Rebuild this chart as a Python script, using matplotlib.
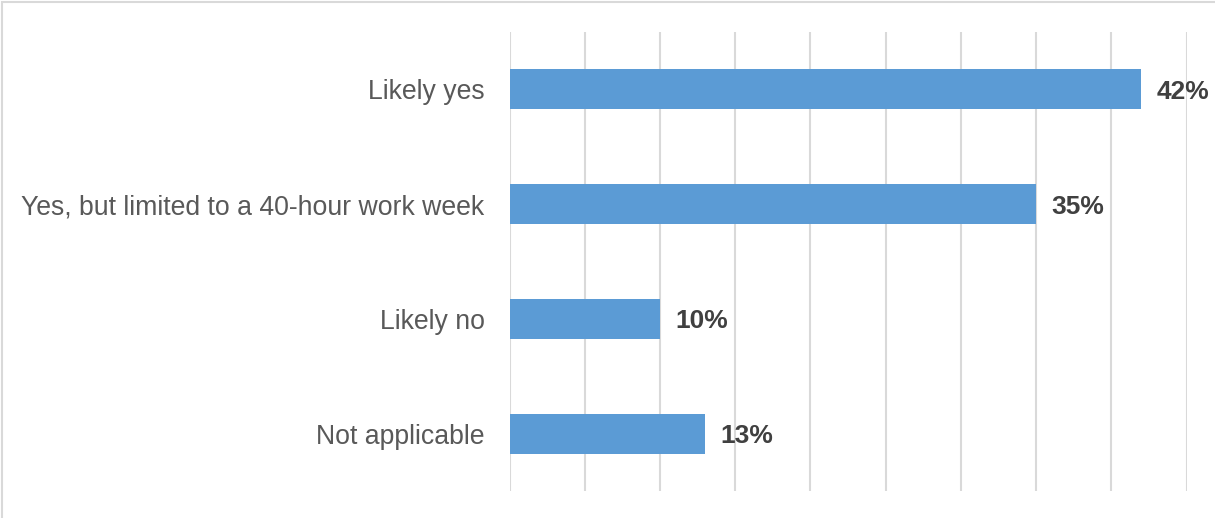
import matplotlib.pyplot as plt
from matplotlib.patches import Rectangle

# survey answers, top to bottom
categories = ["Likely yes", "Yes, but limited to a 40-hour work week", "Likely no", "Not applicable"]
shares = [42, 35, 10, 13]
grid_steps = list(range(0, 50, 5))

plt.rcParams['font.family'] = ['Liberation Sans', 'DejaVu Sans']

fig = plt.figure(figsize=(12.15, 5.18), dpi=100)
ax = fig.add_axes([509.5 / 1215, 1 - 491 / 518, 677 / 1215, 459 / 518])

ypos = list(range(len(categories)))
ax.barh(ypos, shares, height=0.35, color='#5B9BD5', zorder=3)

for y, v in zip(ypos, shares):
    ax.annotate(f"{v}%", (v, y), xytext=(11, 0), textcoords='offset points',
                va='center_baseline', ha='left', fontsize=19, fontweight='bold', color='#404040')

ax.set_xlim(0, 45)
ax.set_ylim(len(categories) - 0.5, -0.5)
ax.set_xticks(grid_steps)
ax.set_xticklabels([])
ax.tick_params(axis='x', length=0)
ax.set_yticks(ypos)
ax.set_yticklabels(categories, fontsize=19.2, color='#595959')
ax.tick_params(axis='y', length=0, pad=18)
ax.grid(axis='x', color='#D9D9D9', linewidth=1.5, zorder=0)
for s in ax.spines.values():
    s.set_visible(False)

# light frame round the chart area
fig.patches.append(Rectangle((2 / 1215, -0.1), 1.2, 1 - 2 / 518 + 0.1, transform=fig.transFigure,
                             fill=False, edgecolor='#D9D9D9', linewidth=1.5))

fig.savefig('out.png', dpi=100)
